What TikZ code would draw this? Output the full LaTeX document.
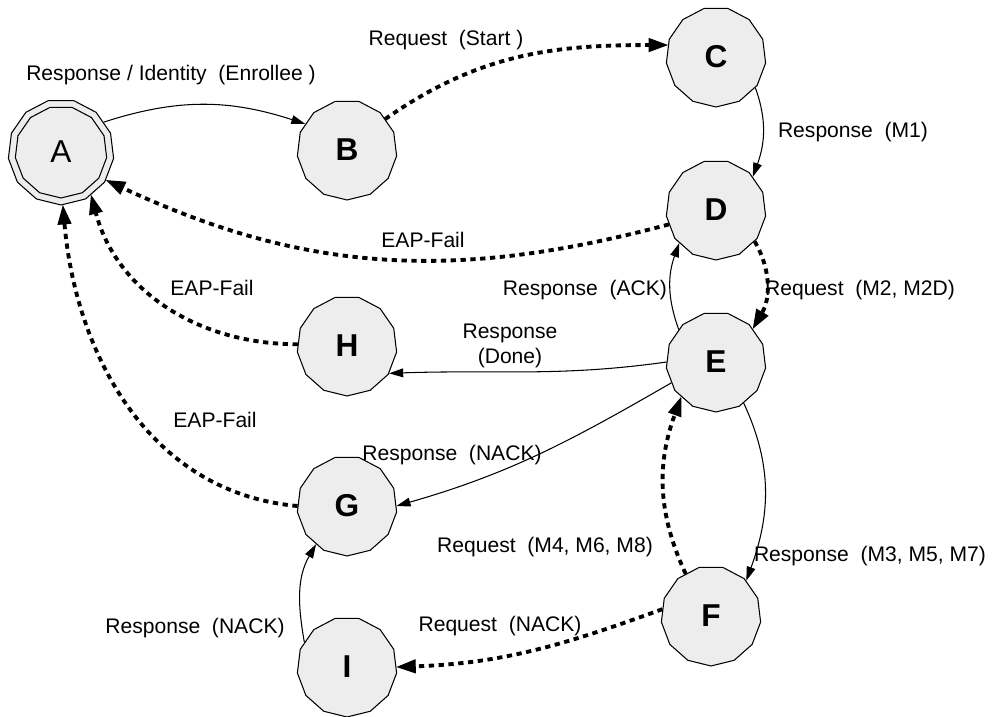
\documentclass[tikz,border=0pt]{standalone}
\usepackage{fontspec}
\setmainfont{Liberation Sans}
\usetikzlibrary{shapes.geometric, arrows.meta}
\definecolor{stategray}{HTML}{EDEDED}

\tikzset{
  state/.style={regular polygon, regular polygon sides=13, shape border rotate=180,
    draw, fill=stategray, line width=0.6pt, minimum size=2cm, inner sep=0pt,
    font=\fontsize{18}{20}\selectfont\bfseries},
  lbl/.style={font=\fontsize{12}{14}\selectfont, inner sep=1pt, align=center},
  resp/.style={line width=0.6pt, -{Triangle[length=8pt,width=5pt]}},
  req/.style={line width=2.2pt, dash pattern=on 3pt off 2.6pt,
    -{Triangle[length=11pt,width=8pt,line width=0.6pt]}},
}

\begin{document}
\begin{tikzpicture}[x=0.02cm, y=0.02cm]
  \useasboundingbox (0,0) rectangle (1008,-717);

  % states
  \node[state, minimum size=2.12cm, font=\fontsize{18}{20}\selectfont] (A) at (61,-152) {A};
  \node[state, fill=none, minimum size=1.84cm] (Ain) at (A.center) {};
  \node[state] (B) at (347,-150) {B};
  \node[state] (C) at (716,-57) {C};
  \node[state] (D) at (716,-210) {D};
  \node[state] (E) at (716,-362) {E};
  \node[state] (H) at (347,-346) {H};
  \node[state] (G) at (347,-506) {G};
  \node[state] (F) at (711,-616) {F};
  \node[state] (I) at (347,-667) {I};

  % transitions
  \draw[resp] (A.35) to[out=18, in=162] (B.148);
  \draw[req] (B.39) to[out=35, in=180] (C.166);
  \draw[resp] (C.-38) to[out=-70, in=70] (D.42);
  \draw[req] (D.197) to[out=195, in=-25] (A.-32);
  \draw[req] (D.-39) to[out=-60, in=60] (E.42);
  \draw[resp] (E.139) to[out=110, in=-110] (D.222);
  \draw[resp] (E.180) to[out=188, in=2] (H.-33);
  \draw[req] (H.178) to[out=180, in=-75] (A.-55);
  \draw[resp] (E.205) to[out=210, in=16] (G.0);
  \draw[req] (G.180) to[out=175, in=-85] (A.-88);
  \draw[resp] (E.-56) to[out=-65, in=70] (F.45);
  \draw[req] (F.121) to[out=115, in=-110] (E.225);
  \draw[req] (F.172) to[out=200, in=2] (I.0);
  \draw[resp] (I.150) to[out=100, in=-120] (G.231);

  % labels
  \node[lbl] (lAB) at (171,-75) {Response / Identity~ (Enrollee )};
  \node[lbl] (lBC) at (446,-40) {Request~ (Start )};
  \node[lbl] (lCD) at (853,-132) {Response~ (M1)};
  \node[lbl] (lDA) at (423,-240) {EAP-Fail};
  \node[lbl] (lHA) at (212,-288) {EAP-Fail};
  \node[lbl] (lED) at (585,-290) {Response~ (ACK)};
  \node[lbl] (lDE) at (860,-290) {Request~ (M2, M2D)};
  \node[lbl] (lEH) at (510,-346) {Response\\(Done)};
  \node[lbl] (lGA) at (215,-420) {EAP-Fail};
  \node[lbl] (lEG) at (452,-455) {Response~ (NACK)};
  \node[lbl] (lFE) at (545,-547) {Request~ (M4, M6, M8)};
  \node[lbl] (lEF) at (870,-556) {Response~ (M3, M5, M7)};
  \node[lbl] (lIG) at (195,-628) {Response~ (NACK)};
  \node[lbl] (lFI) at (500,-626) {Request~ (NACK)};
\end{tikzpicture}
\end{document}
